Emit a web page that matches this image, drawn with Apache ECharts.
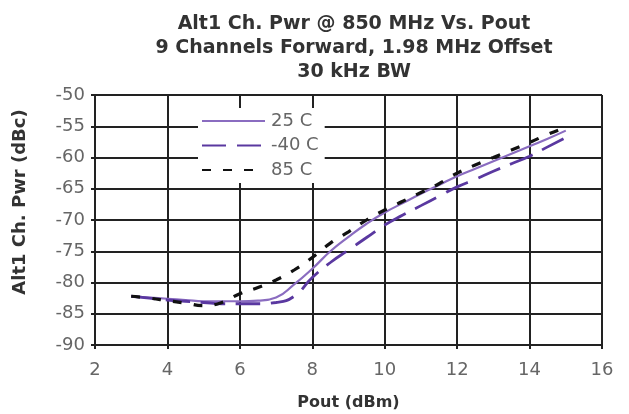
<!DOCTYPE html>
<html><head><meta charset="utf-8">
<script src="https://cdn.jsdelivr.net/npm/echarts@6/dist/echarts.min.js"></script>
<style>html,body{margin:0;padding:0;background:#fff}#c{width:629px;height:414px}</style>
</head><body><div id="c"></div>
<script>
const pout = [3, 3.5, 4, 4.5, 5, 5.5, 6, 6.5, 7, 7.5, 8, 8.5, 9, 9.5, 10, 10.5, 11, 11.5, 12, 12.5, 13, 13.5, 14, 14.5, 15];
const t25 = [-82.2, -82.4, -82.6, -82.8, -83.0, -83.0, -83.0, -82.9, -82.4, -80.3, -77.8, -75.0, -72.7, -70.6, -68.8, -67.3, -65.8, -64.4, -63.0, -61.8, -60.6, -59.4, -58.2, -57.0, -55.7];
const tm40 = [-82.2, -82.5, -82.8, -83.0, -83.2, -83.4, -83.4, -83.4, -83.2, -82.2, -79.2, -76.8, -74.8, -72.8, -70.8, -69.2, -67.7, -66.2, -64.7, -63.5, -62.2, -61.0, -59.8, -58.3, -56.8];
const t85 = [-82.2, -82.5, -82.9, -83.3, -83.7, -83.2, -81.8, -80.8, -79.6, -78.0, -76.0, -73.7, -71.9, -70.0, -68.4, -67.0, -65.6, -64.2, -62.5, -61.2, -60.0, -58.8, -57.6, -56.3, -55.2];
const seriesNames = ['25 C', '-40 C', '85 C'];
const titleLines = ['Alt1 Ch. Pwr @ 850 MHz Vs. Pout', '9 Channels Forward, 1.98 MHz Offset', '30 kHz BW'];
const xName = 'Pout (dBm)';
const yName = 'Alt1 Ch. Pwr (dBc)';

const pairs = arr => pout.map((x, i) => [x, arr[i]]);
const font = 'DejaVu Sans, Verdana, sans-serif';
const chart = echarts.init(document.getElementById('c'), null, {renderer: 'canvas'});
chart.setOption({
  animation: false,
  backgroundColor: '#fff',
  title: {
    text: titleLines.join('\n'),
    left: 349, top: 7, textAlign: 'center',
    textStyle: {fontFamily: font, fontSize: 19, fontWeight: 'bold', color: '#333', lineHeight: 24}
  },
  grid: {left: 95, right: 27, top: 95, bottom: 69, outerBoundsMode: 'none'},
  legend: {
    orient: 'vertical', left: 198, top: 108,
    itemWidth: 63, itemHeight: 14, itemGap: 6.5,
    backgroundColor: '#fff', padding: [4, 6, 4, 3],
    itemStyle: {opacity: 0, borderWidth: 0},
    textStyle: {fontFamily: font, fontSize: 18, color: '#666', padding: [0, 0, 0, 1]},
    data: seriesNames
  },
  graphic: [{
    type: 'text', x: 20, y: 202, rotation: Math.PI / 2,
    style: {text: yName, fontFamily: font, fontSize: 18, fontWeight: 'bold', fill: '#333', textAlign: 'center', textVerticalAlign: 'middle'}
  }],
  xAxis: {
    type: 'value', min: 2, max: 16, interval: 2,
    name: xName, nameLocation: 'middle', nameGap: 50,
    nameTextStyle: {fontFamily: font, fontSize: 16, fontWeight: 'bold', color: '#333'},
    axisLine: {show: true, lineStyle: {color: '#222', width: 2}},
    axisTick: {show: true, inside: false, length: 4, lineStyle: {color: '#222', width: 2}},
    axisLabel: {fontFamily: font, fontSize: 18, color: '#666', margin: 16},
    splitLine: {show: true, lineStyle: {color: '#222', width: 2}}
  },
  yAxis: {
    type: 'value', min: -90, max: -50, interval: 5,
    axisLine: {show: true, lineStyle: {color: '#222', width: 2}},
    axisTick: {show: true, length: 4, lineStyle: {color: '#222', width: 2}},
    axisLabel: {fontFamily: font, fontSize: 18, color: '#666', margin: 10},
    splitLine: {show: true, lineStyle: {color: '#222', width: 2}}
  },
  series: [
    {name: seriesNames[0], type: 'line', smooth: true, symbol: 'none', data: pairs(t25),
     lineStyle: {color: '#8a6cc0', width: 2.2, type: 'solid'}, itemStyle: {color: '#8a6cc0'}, z: 3},
    {name: seriesNames[1], type: 'line', smooth: true, symbol: 'none', data: pairs(tm40),
     lineStyle: {color: '#5a38a0', width: 2.8, type: [24, 11]}, itemStyle: {color: '#5a38a0'}, z: 4},
    {name: seriesNames[2], type: 'line', smooth: true, symbol: 'none', data: pairs(t85),
     lineStyle: {color: '#111', width: 3.2, type: [9, 12]}, itemStyle: {color: '#111'}, z: 5}
  ]
});
</script></body></html>
